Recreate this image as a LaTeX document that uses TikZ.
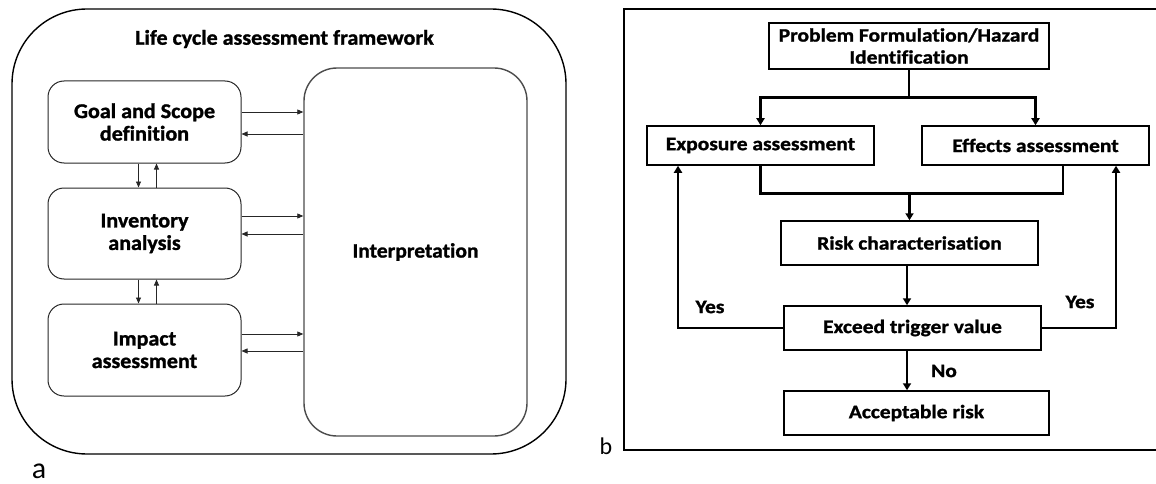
\documentclass[tikz,border=0pt]{standalone}
\usepackage{fontspec}
\setmainfont{Carlito}
\newfontfamily\lfont[FakeStretch=1.05,FakeBold=1.3,RawFeature=-liga]{Carlito}
\newfontfamily\rfont[FakeStretch=1.13,FakeBold=1.3,RawFeature=-liga]{Carlito}
\usetikzlibrary{arrows.meta,calc}

\begin{document}
\begin{tikzpicture}[x=1pt,y=-1pt,
  lbox/.style={draw=black!85, line width=1pt, rounded corners=16pt,
    align=center, inner sep=0pt,
    font=\lfont\bfseries\fontsize{21}{22.5}\selectfont},
  ibox/.style={draw=black!70, line width=1.4pt, rounded corners=33pt,
    align=center, inner sep=0pt,
    font=\lfont\bfseries\fontsize{20.5}{22}\selectfont},
  rbox/.style={draw=black, line width=1.5pt, align=center, inner sep=0pt,
    font=\rfont\bfseries\fontsize{19}{22}\selectfont},
  rlbl/.style={font=\rfont\bfseries\fontsize{19}{22}\selectfont, inner sep=0pt},
  la/.style={-{Triangle[length=6pt,width=5pt]}, line width=0.8pt, draw=black!85},
  ra/.style={-{Triangle[length=7pt,width=8pt]}, line width=2.6pt},
  rl/.style={line width=2.6pt},
]
\useasboundingbox (0,0) rectangle (1156,484);
\clip (0,0) rectangle (1156,484);

% ---------- (a) life cycle assessment ----------
\draw[line width=1.4pt, rounded corners=75pt] (12,9) rectangle (566,454);
\node[font=\lfont\bfseries\fontsize{21}{22}\selectfont, inner sep=0pt] (title)
  at (284.5,39) {Life cycle assessment framework};

\node[lbox, minimum width=193pt, minimum height=82pt] (goal) at (144.5,122)
  {Goal and Scope\\definition};
\node[lbox, minimum width=193pt, minimum height=91pt] (inv) at (144.5,233.5)
  {Inventory\\analysis};
\node[lbox, minimum width=193pt, minimum height=92pt] (imp) at (144.5,350)
  {Impact\\assessment};
\node[ibox, minimum width=223pt, minimum height=368pt] (interp) at (415.5,252)
  {Interpretation};

% horizontal exchanges with interpretation
\draw[la] ([yshift=10pt]goal.east) -- ([yshift=10pt]goal.east -| interp.west);
\draw[la] ([yshift=-12pt]goal.east -| interp.west) -- ([yshift=-12pt]goal.east);
\draw[la] ([yshift=17.5pt]inv.east) -- ([yshift=17.5pt]inv.east -| interp.west);
\draw[la] ([yshift=-0.5pt]inv.east -| interp.west) -- ([yshift=-0.5pt]inv.east);
\draw[la] ([yshift=16pt]imp.east) -- ([yshift=16pt]imp.east -| interp.west);
\draw[la] ([yshift=-1pt]imp.east -| interp.west) -- ([yshift=-1pt]imp.east);

% vertical exchanges between phases
\draw[la] ([xshift=-6pt]goal.south) -- ([xshift=-6pt]goal.south |- inv.north);
\draw[la] ([xshift=12pt]goal.south |- inv.north) -- ([xshift=12pt]goal.south);
\draw[la] ([xshift=-6pt]inv.south) -- ([xshift=-6pt]inv.south |- imp.north);
\draw[la] ([xshift=12pt]inv.south |- imp.north) -- ([xshift=12pt]inv.south);

\node[font=\fontsize{30}{30}\selectfont, inner sep=0pt] (la) at (39,471) {a};

% ---------- (b) risk assessment ----------
\draw[line width=1.5pt] (624,9) rectangle (1170,450);
\node[font=\fontsize{24}{24}\selectfont, inner sep=0pt] (lb) at (606,446) {b};

\node[rbox, minimum width=280pt, minimum height=46pt] (prob) at (909,46)
  {Problem Formulation/Hazard\\Identification};
\node[rbox, minimum width=227pt, minimum height=39pt] (expo) at (760.5,145.5)
  {Exposure assessment};
\node[rbox, minimum width=227pt, minimum height=39pt] (eff) at (1035.5,145.5)
  {Effects assessment};
\node[rbox, minimum width=257pt, minimum height=44pt] (risk) at (909.5,243)
  {Risk characterisation};
\node[rbox, minimum width=257pt, minimum height=44pt] (exc) at (912.5,328)
  {Exceed trigger value};
\node[rbox, minimum width=265pt, minimum height=44pt] (acc) at (916.5,413)
  {Acceptable risk};

% branch to the two assessments
\draw[rl] (prob.south) -- ++(0,28) coordinate (br);
\draw[ra] (br) -| (expo.north);
\draw[ra] (br) -| (eff.north);

% merge into risk characterisation
\draw[rl] (expo.south) -- ++(0,28) coordinate (mgl) -| ([xshift=27.5pt]eff.south);
\coordinate (mg) at (mgl -| risk.north);
\draw[ra] (mg) -- (risk.north);

\draw[ra] ([xshift=-2.5pt]risk.south) -- ([xshift=-2.5pt]risk.south |- exc.north);
\draw[ra] ([xshift=-5.5pt]exc.south) -- ([xshift=-5.5pt]exc.south |- acc.north);

% feedback loops
\draw[ra] (exc.west) -| ([xshift=-82.5pt]expo.south);
\draw[ra] (exc.east) -| ([xshift=80.5pt]eff.south);

\node[rlbl] (yl) at (710,307) {Yes};
\node[rlbl] (yr) at (1080,302) {Yes};
\node[rlbl] (no) at (944,371) {No};
\end{tikzpicture}
\end{document}
